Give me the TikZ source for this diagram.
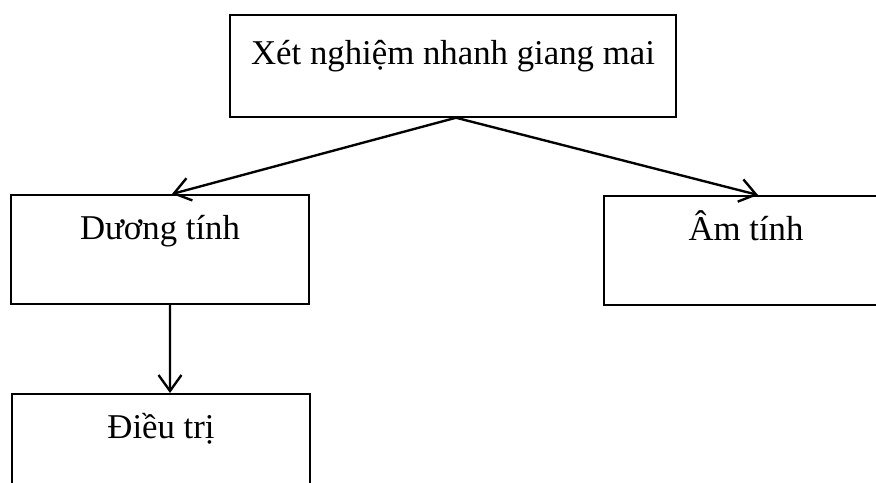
\documentclass[tikz,border=0pt]{standalone}
\usepackage{fontspec}
\setmainfont{Liberation Serif}
\usetikzlibrary{arrows.meta}

\tikzset{
  box/.style={draw, line width=1pt, inner xsep=0pt, inner ysep=0pt,
    anchor=north, text height=0.9cm, text depth=1.28cm,
    font=\fontsize{19.8}{23}\selectfont},
  arr/.style={-{Straight Barb[length=0.32cm, width=0.46cm]}, line width=1.35pt}
}

\begin{document}
\begin{tikzpicture}[x=0.02cm, y=-0.02cm]
\useasboundingbox (0,0) rectangle (876,483);
\clip (0,0) rectangle (876,483);

\node[box, minimum width=8.92cm, text height=1.0cm, text depth=1.04cm] (test) at (453,14) {Xét nghiệm nhanh giang mai};
\node[box, minimum width=5.96cm] (pos) at (160,194) {Dương tính};
\node[box, minimum width=5.68cm] (neg) at (746,195) {Âm tính};
\node[box, minimum width=5.96cm] (treat) at (161,393) {Điều trị};

\draw[arr] ([xshift=0.06cm]test.south) to ([xshift=0.24cm]pos.north);
\draw[arr] ([xshift=0.06cm]test.south) to ([xshift=0.24cm]neg.north);
\draw[arr] ([xshift=0.2cm]pos.south) to ([xshift=0.18cm]treat.north);
\end{tikzpicture}
\end{document}
